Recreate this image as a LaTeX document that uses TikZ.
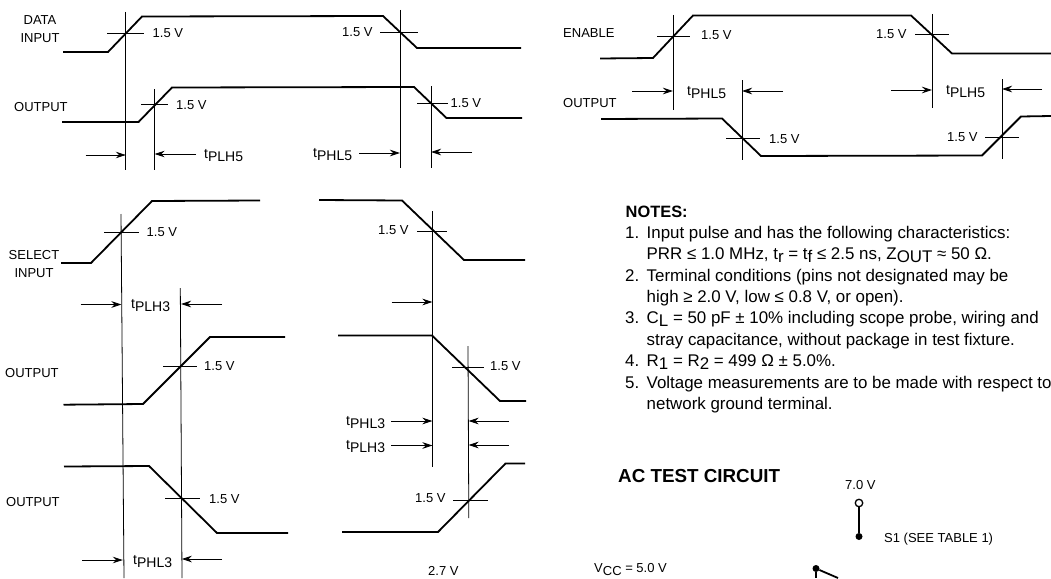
\documentclass[tikz,border=0pt]{standalone}
\usepackage{fontspec}
\setmainfont{Liberation Sans}
\usetikzlibrary{arrows.meta}
\tikzstyle{wave} = [draw=black,line width=1.8pt,line join=miter]
\tikzstyle{guide} = [draw=black,line width=0.8pt]
\tikzstyle{dimline} = [draw=black,line width=0.8pt,-{Stealth[length=10pt,width=6.5pt]}]
\tikzstyle{lab} = [inner sep=0pt,anchor=west,font=\fontsize{13}{15}\selectfont,text=black]
\tikzstyle{tlab} = [inner sep=0pt,anchor=west,font=\fontsize{14}{16}\selectfont,text=black]
\tikzstyle{note} = [inner sep=0pt,anchor=base west,font=\fontsize{16.9}{19}\selectfont,text=black]
\tikzstyle{head} = [inner sep=0pt,anchor=west,font=\fontsize{16.4}{18}\selectfont\bfseries,text=black]
\tikzstyle{pin} = [circle,fill=black,inner sep=0pt,minimum size=7pt]
\newcommand{\lowr}[1]{\raisebox{-3pt}{#1}}

\begin{document}
\begin{tikzpicture}[x=1pt,y=-1pt]
    \useasboundingbox (0,0) rectangle (1051,578);
    \fill[white] (0,0) rectangle (1051,578);

    % data input and its output
    \draw [wave] (63,52) -- (108,52) -- (142,16.5) -- (383,16) -- (417,48) -- (521,48);
    \draw [wave] (62,122) -- (138.5,122) -- (172,87.5) -- (414,87) -- (446.5,118) -- (522,118);
    \draw [guide] (125.8,12) -- (125.8,170);
    \draw [guide] (400,10) -- (400,168);
    \draw [guide] (154.6,89) -- (154.6,170);
    \draw [guide] (431,86) -- (431,168);
    \draw [guide] (107,33) -- (144,33);
    \draw [guide] (380,32) -- (418,32);
    \draw [guide] (141,104.5) -- (168,104.5);
    \draw [guide] (417,103) -- (448,103);
    \node [lab] (datavl) at (152.5,33) {1.5 V};
    \node [lab] (datavr) at (342,32) {1.5 V};
    \node [lab] (outvl) at (176,105) {1.5 V};
    \node [lab] (outvr) at (450.5,103) {1.5 V};
    \node [lab,anchor=center,align=center] (datalab) at (40,29) {DATA\\[3pt]INPUT};
    \node [lab] (outlab) at (14,107) {OUTPUT};
    \draw [dimline] (85.5,155) -- (125.8,155);
    \draw [dimline] (196,154) -- (154.6,154);
    \draw [dimline] (359,153) -- (400,153);
    \draw [dimline] (472,152) -- (431,152);
    \node [tlab] (tplhtop) at (204,156) {t\lowr{PLH5}};
    \node [tlab] (tphltop) at (313,155) {t\lowr{PHL5}};

    % select input, left half
    \draw [wave] (61,263) -- (91,263) -- (152,201) -- (260,200.5);
    \draw [wave] (63.5,404.7) -- (143,404) -- (210,337) -- (285,337);
    \draw [wave] (64,466.5) -- (149,466) -- (217,533) -- (288,533);
    \draw [guide] (121,214) -- (124,578);
    \draw [guide] (180.3,288) -- (182,578);
    \draw [guide] (104,232) -- (138.5,232);
    \draw [guide] (163,366) -- (197,366);
    \draw [guide] (165,498.5) -- (200,498.5);
    \node [lab] (selv) at (146.5,232) {1.5 V};
    \node [lab] (out2v) at (204,366) {1.5 V};
    \node [lab] (out3v) at (209,499) {1.5 V};
    \node [lab,anchor=center,align=center] (sellab) at (34,264) {SELECT\\[3pt]INPUT};
    \node [lab] (out2lab) at (5,373) {OUTPUT};
    \node [lab] (out3lab) at (6,502) {OUTPUT};
    \draw [dimline] (80.5,304.5) -- (121.5,304.5);
    \draw [dimline] (222,304) -- (181,304);
    \draw [dimline] (82,560) -- (122.8,560);
    \draw [dimline] (222,559) -- (181.8,559);
    \node [tlab] (tplhsel) at (131,306) {t\lowr{PLH3}};
    \node [tlab] (tphlsel) at (133,562) {t\lowr{PHL3}};

    % select input, right half
    \draw [wave] (319,200) -- (402,200.5) -- (464,260) -- (525,260);
    \draw [wave] (338,335.5) -- (432,335.5) -- (500,401) -- (526,401);
    \draw [wave] (342,532) -- (438,532) -- (505.5,463.5) -- (525,463.5);
    \draw [guide] (432.5,211) -- (432.5,467);
    \draw [guide] (468,346) -- (468.8,518);
    \draw [guide] (417,231) -- (447,231);
    \draw [guide] (452,367) -- (484,367);
    \draw [guide] (453,500) -- (488,500);
    \node [lab] (selrv) at (378,230) {1.5 V};
    \node [lab] (out2rv) at (490,366) {1.5 V};
    \node [lab] (out3rv) at (415,498) {1.5 V};
    \node [lab] (vbias) at (428,571) {2.7 V};
    \draw [dimline] (391.5,302) -- (432.5,302);
    \draw [dimline] (391,421) -- (432.5,421);
    \draw [dimline] (509,421) -- (468.5,421);
    \draw [dimline] (391,445.5) -- (432.5,445.5);
    \draw [dimline] (509,445) -- (468.5,445);
    \node [tlab] (tphlsr) at (346,423) {t\lowr{PHL3}};
    \node [tlab] (tplhsr) at (346,447) {t\lowr{PLH3}};

    % enable and its output
    \draw [wave] (600,58.5) -- (653,58) -- (693,15.5) -- (911,15.5) -- (952,53.5) -- (1051,53.5);
    \draw [wave] (601,119) -- (722,118.5) -- (761,156) -- (982,155.5) -- (1021,116.5) -- (1051,116);
    \draw [guide] (673,15) -- (673,110);
    \draw [guide] (932,14) -- (932,108);
    \draw [guide] (742,80) -- (742,160);
    \draw [guide] (1002,79) -- (1002,159);
    \draw [guide] (657,36) -- (690,36);
    \draw [guide] (915,34.5) -- (949,34.5);
    \draw [guide] (726,138.5) -- (760,138.5);
    \draw [guide] (985,137.5) -- (1019,137.5);
    \node [lab] (envl) at (701,35) {1.5 V};
    \node [lab] (envr) at (876,34) {1.5 V};
    \node [lab] (enoutvl) at (769,139) {1.5 V};
    \node [lab] (enoutvr) at (947,137) {1.5 V};
    \node [lab] (enlab) at (563,33) {ENABLE};
    \node [lab] (enoutlab) at (563,103) {OUTPUT};
    \draw [dimline] (632,91) -- (673,91);
    \draw [dimline] (783,91) -- (742,91);
    \draw [dimline] (891,90) -- (932,90);
    \draw [dimline] (1042,89) -- (1002,89);
    \node [tlab] (tphlen) at (687,93) {t\lowr{PHL5}};
    \node [tlab] (tplhen) at (946,92) {t\lowr{PLH5}};

    % notes
    \node [head] (notes) at (625.5,212) {NOTES:};
    \node [note] (n1) at (625,238) {1.};
    \node [note] (n1a) at (646.5,238) {Input pulse and has the following characteristics:};
    \node [note] (n1b) at (646.5,259.5) {PRR ≤ 1.0 MHz, t\lowr{r} = t\lowr{f} ≤ 2.5 ns, Z\lowr{OUT} ≈ 50 Ω.};
    \node [note] (n2) at (625,281) {2.};
    \node [note] (n2a) at (646.5,281) {Terminal conditions (pins not designated may be};
    \node [note] (n2b) at (646.5,302) {high ≥ 2.0 V, low ≤ 0.8 V, or open).};
    \node [note] (n3) at (625,323.5) {3.};
    \node [note] (n3a) at (646.5,323.5) {C\lowr{L} = 50 pF ± 10\% including scope probe, wiring and};
    \node [note] (n3b) at (646.5,345) {stray capacitance, without package in test fixture.};
    \node [note] (n4) at (625,366.5) {4.};
    \node [note] (n4a) at (646.5,366.5) {R\lowr{1} = R\lowr{2} = 499 Ω ± 5.0\%.};
    \node [note] (n5) at (625,388) {5.};
    \node [note] (n5a) at (646.5,388) {Voltage measurements are to be made with respect to};
    \node [note] (n5b) at (646.5,409) {network ground terminal.};

    % test circuit
    \node [head,font=\fontsize{18.8}{20}\selectfont\bfseries] (actitle) at (618,476) {AC TEST CIRCUIT};
    \node [lab] (vseven) at (845,485) {7.0 V};
    \node [draw,circle,line width=1.3pt,fill=white,inner sep=0pt,minimum size=7.5pt] (open) at (859,503) {};
    \node [pin] (swtop) at (859,536.5) {};
    \draw [wave] (open) -- (swtop);
    \node [lab] (swlab) at (884,539) {S1 (SEE TABLE 1)};
    \node [lab] (vcc) at (594,570) {V\lowr{CC} = 5.0 V};
    \node [pin] (swarm) at (816,568.5) {};
    \coordinate (armend) at (838,578);
    \coordinate (armstub) at (816,578);
    \draw [wave] (swarm) -- (armend);
    \draw [wave] (swarm) -- (armstub);
\end{tikzpicture}
\end{document}
